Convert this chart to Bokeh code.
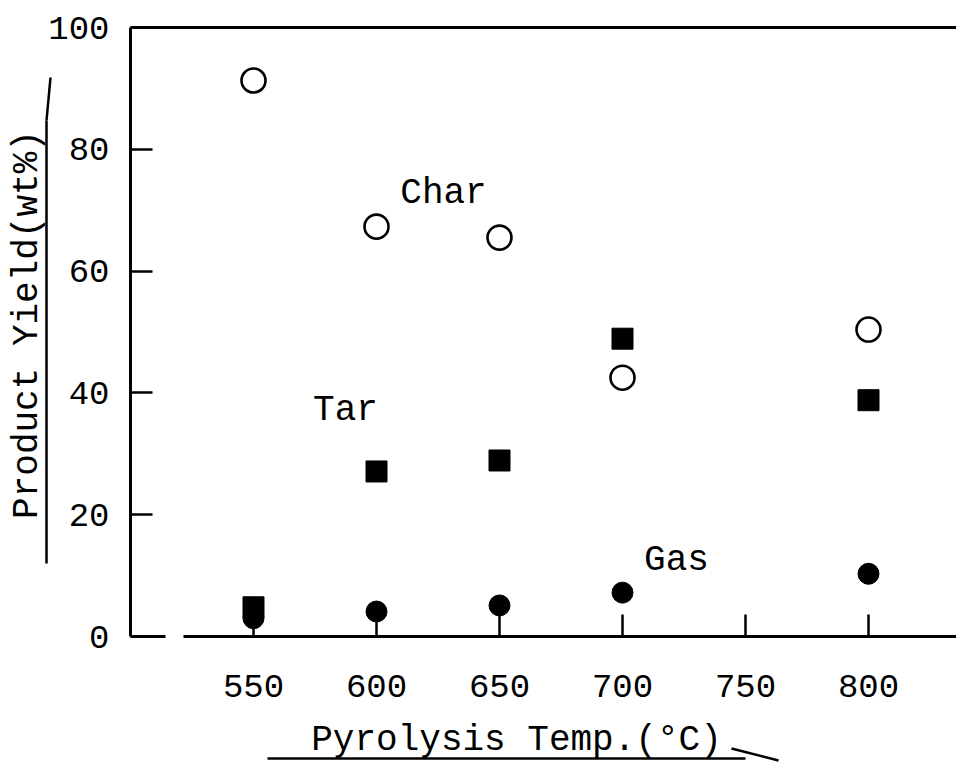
from bokeh.plotting import figure
from bokeh.models import Label, Arrow, LinearAxis, FixedTicker, Range1d
from bokeh.embed import file_html
from bokeh.resources import INLINE

# ---- data ----
temps = [550, 600, 650, 700, 800]
char_yield = [91.3, 67.3, 65.5, 42.5, 50.4]
tar_yield = [4.8, 27.1, 28.9, 48.9, 38.8]
gas_yield = [3.0, 4.1, 5.1, 7.2, 10.3]
x_ticks = [550, 600, 650, 700, 750, 800]
y_ticks = [0, 20, 40, 60, 80, 100]
x_title = "Pyrolysis Temp.(°C)"
y_title = "Product Yield(wt%)"
series_names = ["Char", "Tar", "Gas"]

FONT = "Liberation Mono"

W, H = 956, 762


def px(xp):   # canvas pixel -> data x (only for annotation placement)
    return 500 + (xp - 130) / 2.46


def py(yp):   # canvas pixel -> data y (only for annotation placement)
    return (636 - yp) / 6.09


# Frame covers the whole canvas; axes are drawn at fixed locations inside it.
p = figure(width=W, height=H,
           x_range=Range1d(px(0), px(W)), y_range=Range1d(py(H), py(0)),
           x_axis_type=None, y_axis_type=None,
           output_backend="svg", toolbar_location=None,
           min_border=0)
p.grid.visible = False
p.outline_line_color = None
p.background_fill_color = "white"
p.border_fill_color = "white"


def style(ax, ticks, standoff):
    ax.ticker = FixedTicker(ticks=ticks)
    ax.axis_line_width = 3
    ax.axis_line_color = "black"
    ax.major_tick_line_width = 2.5
    ax.major_tick_line_color = "black"
    ax.major_tick_in = 22
    ax.major_tick_out = 0
    ax.minor_tick_line_color = None
    ax.major_label_text_font = FONT
    ax.major_label_text_font_size = "34px"
    ax.major_label_text_color = "black"
    ax.major_label_standoff = standoff


# short stub of the x axis near the corner (gap as in the drawing)
xa_stub = LinearAxis(fixed_location=0, bounds=(500, px(165)))
style(xa_stub, [], 38)
p.add_layout(xa_stub, "below")

xa = LinearAxis(fixed_location=0, bounds=(px(183), px(W)))
style(xa, x_ticks, 38)
p.add_layout(xa, "below")

ya = LinearAxis(fixed_location=500, bounds=(0, 100))
style(ya, y_ticks, 21)
p.add_layout(ya, "left")

top = LinearAxis(fixed_location=100, bounds=(500, px(W)))
style(top, [], 0)
top.major_label_text_font_size = "0px"
p.add_layout(top, "above")

# series
p.scatter(temps, char_yield, marker="circle", size=24, fill_color="white",
          line_color="black", line_width=2.6)
p.scatter(temps, tar_yield, marker="square", size=21, fill_color="black",
          line_color="black")
p.scatter(temps, gas_yield, marker="circle", size=21, fill_color="black",
          line_color="black")

SHIFT = 10  # renderer draws alphabetic baseline ~10px below the anchor


def lab(xp, yp, text, angle=0.0):
    if angle:
        xp -= SHIFT
    else:
        yp -= SHIFT
    p.add_layout(Label(x=px(xp), y=py(yp), text=text, text_font=FONT,
                       text_font_size="36px", text_color="black",
                       text_align="center", text_baseline="alphabetic",
                       angle=angle))


lab(443, 203, series_names[0])
lab(345, 420, series_names[1])
lab(676, 570, series_names[2])
lab(516, 750, x_title)
lab(37, 324, y_title, angle=1.5708)


def stroke(x0, y0, x1, y1):
    p.add_layout(Arrow(end=None, x_start=px(x0), y_start=py(y0),
                       x_end=px(x1), y_end=py(y1),
                       line_color="black", line_width=2.5))


# hand-drawn underline strokes beside the axis titles
stroke(46, 563, 46, 120)
stroke(46, 120, 50, 77)
stroke(267, 758, 745, 758)
stroke(731, 748, 778, 760)

open("out.html", "w").write(file_html(p, INLINE))
